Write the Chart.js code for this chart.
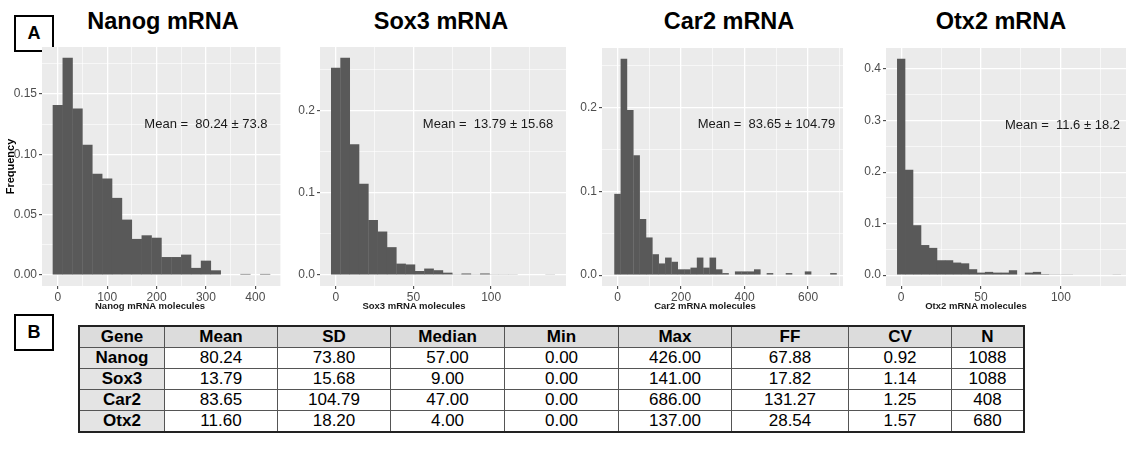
<!DOCTYPE html>
<html>
<head>
<meta charset="utf-8">
<script src="https://cdn.jsdelivr.net/npm/chart.js@4.4.1/dist/chart.umd.min.js"></script>
<style>
  html, body { margin: 0; padding: 0; background: #fff; }
  body { width: 1126px; height: 459px; overflow: hidden; font-family: "Liberation Sans", Arial, sans-serif; }
  #fig { position: relative; width: 1126px; height: 459px; overflow: hidden; }
  canvas { position: absolute; }
  .ptitle { position: absolute; top: 10px; width: 220px; text-align: center; font-weight: bold; font-size: 23.5px; line-height: 23px; color: #000; white-space: nowrap; }
  .xtitle { position: absolute; top: 300px; width: 200px; text-align: center; font-weight: bold; font-size: 9.5px; line-height: 12px; color: #1a1a1a; white-space: nowrap; }
  .tag { position: absolute; left: 14px; width: 36px; height: 33px; border: 2px solid #000; font-weight: bold; font-size: 18px; line-height: 33px; text-align: center; }
  #stats { position: absolute; left: 78px; top: 325px; border-collapse: collapse; border: 2px solid #222; font-size: 17px; }
  #stats td, #stats th { border: 1px solid #555; height: 20px; padding: 0; text-align: center; line-height: 20px; }
  #stats th { background: #dcdcdc; font-weight: bold; }
  #stats td.gene { background: #e4e4e4; font-weight: bold; }
</style>
</head>
<body>
<div id="fig">
  <div class="tag" style="top:15px">A</div>
  <div class="tag" style="top:314px">B</div>

  <canvas id="nanog" width="291" height="269" style="left:0px;top:37px"></canvas>
  <canvas id="sox3" width="286" height="269" style="left:290px;top:37px"></canvas>
  <canvas id="car2" width="281" height="268" style="left:572px;top:38px"></canvas>
  <canvas id="otx2" width="286" height="268" style="left:856px;top:38px"></canvas>

  <table id="stats"></table>
</div>

<script>
// ---------- histogram data (bin centres, relative frequency) ----------
const nanogBins = [0, 20, 40, 60, 80, 100, 120, 140, 160, 180, 200, 220, 240, 260, 280, 300, 320, 340, 360, 380, 400, 420];
const nanogFreq = [0.141, 0.180, 0.138, 0.108, 0.084, 0.080, 0.064, 0.046, 0.030, 0.033, 0.031, 0.015, 0.015, 0.017, 0.006, 0.012, 0.004, 0, 0, 0.001, 0, 0.001];

const sox3Bins = [0, 6, 12, 18, 24, 30, 36, 42, 48, 54, 60, 66, 72, 78, 84, 90, 96, 102, 108, 114, 120, 126, 132, 138];
const sox3Freq = [0.252, 0.264, 0.159, 0.111, 0.067, 0.053, 0.034, 0.014, 0.013, 0.005, 0.008, 0.006, 0.003, 0.001, 0.002, 0.001, 0.002, 0.001, 0.001, 0.001, 0, 0, 0, 0.001];

const car2Bins = [0, 20, 40, 60, 80, 100, 120, 140, 160, 180, 200, 220, 240, 260, 280, 300, 320, 340, 360, 380, 400, 420, 440, 460, 480, 500, 520, 540, 560, 580, 600, 620, 640, 660, 680];
const car2Freq = [0.097, 0.258, 0.197, 0.143, 0.067, 0.045, 0.025, 0.014, 0.021, 0.016, 0.007, 0.007, 0.009, 0.021, 0.009, 0.021, 0.007, 0.0025, 0, 0.0045, 0.0045, 0.0045, 0.007, 0, 0.0025, 0, 0, 0.0025, 0, 0, 0.0045, 0, 0, 0, 0.0025];

const otx2Bins = [0, 5, 10, 15, 20, 25, 30, 35, 40, 45, 50, 55, 60, 65, 70, 75, 80, 85, 90, 95, 100, 105, 110, 115, 120, 125, 130, 135];
const otx2Freq = [0.42, 0.2045, 0.097, 0.0585, 0.053, 0.029, 0.029, 0.0245, 0.023, 0.0116, 0.005, 0.0064, 0.005, 0.005, 0.0096, 0.0013, 0.005, 0.0064, 0.002, 0.0015, 0.0015, 0.0015, 0, 0, 0, 0, 0, 0.0015];

const panelTitles = ["Nanog mRNA", "Sox3 mRNA", "Car2 mRNA", "Otx2 mRNA"];
const xTitles = ["Nanog mRNA molecules", "Sox3 mRNA molecules", "Car2 mRNA molecules", "Otx2 mRNA molecules"];
const meanTexts = ["Mean =  80.24 \u00b1 73.8", "Mean =  13.79 \u00b1 15.68", "Mean =  83.65 \u00b1 104.79", "Mean =  11.6 \u00b1 18.2"];

// ---------- table data ----------
const tableHeader = ["Gene", "Mean", "SD", "Median", "Min", "Max", "FF", "CV", "N"];
const tableGenes = ["Nanog", "Sox3", "Car2", "Otx2"];
const tableMean = ["80.24", "13.79", "83.65", "11.60"];
const tableSD = ["73.80", "15.68", "104.79", "18.20"];
const tableMedian = ["57.00", "9.00", "47.00", "4.00"];
const tableMin = ["0.00", "0.00", "0.00", "0.00"];
const tableMax = ["426.00", "141.00", "686.00", "137.00"];
const tableFF = ["67.88", "17.82", "131.27", "28.54"];
const tableCV = ["0.92", "1.14", "1.25", "1.57"];
const tableN = ["1088", "1088", "408", "680"];
const colWidths = [84, 112, 112, 113, 113, 112, 116, 102, 71];

Chart.defaults.font.family = '"Liberation Sans", Arial, sans-serif';

const isMajor = (v, step) => Math.abs(v / step - Math.round(v / step)) < 1e-6;

// grey ggplot panel behind everything
const panelBg = {
    id: "panelBg",
    beforeDraw(chart) {
        const { ctx, chartArea: a } = chart;
        ctx.save();
        ctx.fillStyle = "#ebebeb";
        ctx.fillRect(a.left, a.top, a.right - a.left, a.bottom - a.top);
        ctx.restore();
    }
};

// "Mean = ..." annotation placed in data coordinates
const meanLabel = {
    id: "meanLabel",
    afterDatasetsDraw(chart, args, opts) {
        const { ctx, scales } = chart;
        ctx.save();
        ctx.font = '13px "Liberation Sans", Arial, sans-serif';
        ctx.fillStyle = "#1a1a1a";
        ctx.textAlign = "center";
        ctx.textBaseline = "middle";
        ctx.fillText(opts.text, scales.x.getPixelForValue(opts.x), scales.y.getPixelForValue(opts.y));
        ctx.restore();
    }
};

const panels = [
    { id: "nanog", bins: nanogBins, freq: nanogFreq, xMin: -32, xMax: 452, xStep: 50, xMajor: 100,
      yStep: 0.025, yMajor: 0.05, yDigits: 2, axisW: 42, meanAt: [300, 0.125], yTitle: "Frequency" },
    { id: "sox3", bins: sox3Bins, freq: sox3Freq, xMin: -10.2, xMax: 148.2, xStep: 25, xMajor: 50,
      yStep: 0.05, yMajor: 0.1, yDigits: 1, axisW: 30, meanAt: [98, 0.183] },
    { id: "car2", bins: car2Bins, freq: car2Freq, xMin: -49, xMax: 710, xStep: 100, xMajor: 200,
      yStep: 0.05, yMajor: 0.1, yDigits: 1, axisW: 30, meanAt: [469, 0.18] },
    { id: "otx2", bins: otx2Bins, freq: otx2Freq, xMin: -9.5, xMax: 144.5, xStep: 25, xMajor: 50,
      yStep: 0.05, yMajor: 0.1, yDigits: 1, axisW: 30, meanAt: [101, 0.29] }
];

function gridOpts(major) {
    return {
        offset: false,
        color: "#ffffff",
        lineWidth: c => (c.tick && isMajor(c.tick.value, major) ? 1.3 : 0.6),
        tickColor: c => (c.tick && isMajor(c.tick.value, major) ? "#333333" : "rgba(0,0,0,0)"),
        tickWidth: 1,
        tickLength: 3
    };
}

function makeHistogram(p, i) {
    const top = Math.max(...p.freq);
    return new Chart(document.getElementById(p.id), {
        type: "bar",
        data: {
            datasets: [{
                data: p.bins.map((b, k) => ({ x: b, y: p.freq[k] })),
                backgroundColor: "#595959",
                borderWidth: 0,
                barPercentage: 1.04,
                categoryPercentage: 1
            }]
        },
        options: {
            responsive: false,
            animation: false,
            events: [],
            layout: { padding: { top: 10, right: 10, left: 0, bottom: 0 } },
            plugins: {
                legend: { display: false },
                tooltip: { enabled: false },
                meanLabel: { text: meanTexts[i], x: p.meanAt[0], y: p.meanAt[1] }
            },
            scales: {
                x: {
                    type: "linear",
                    min: p.xMin,
                    max: p.xMax,
                    offset: false,
                    border: { display: false },
                    grid: gridOpts(p.xMajor),
                    ticks: {
                        stepSize: p.xStep,
                        includeBounds: false,
                        autoSkip: false,
                        maxRotation: 0,
                        padding: 1,
                        color: "#4d4d4d",
                        font: { size: 12 },
                        callback: v => (isMajor(v, p.xMajor) ? String(v) : "")
                    },
                    afterFit: s => { s.height = 20; }
                },
                y: {
                    min: -0.05 * top,
                    max: 1.05 * top,
                    border: { display: false },
                    grid: gridOpts(p.yMajor),
                    title: p.yTitle ? { display: true, text: p.yTitle, color: "#000", font: { size: 11, weight: "bold" } } : { display: false },
                    ticks: {
                        stepSize: p.yStep,
                        includeBounds: false,
                        autoSkip: false,
                        padding: 2,
                        color: "#4d4d4d",
                        font: { size: 12 },
                        callback: v => (isMajor(v, p.yMajor) ? v.toFixed(p.yDigits) : "")
                    },
                    afterFit: s => { s.width = p.axisW; }
                }
            }
        },
        plugins: [panelBg, meanLabel]
    });
}

panels.forEach(makeHistogram);

// titles and x-axis titles as plain text over the figure
const fig = document.getElementById("fig");
const titleCentres = [163, 441, 729, 1001];
const xTitleCentres = [150, 414, 705, 976];
panelTitles.forEach((t, i) => {
    const d = document.createElement("div");
    d.className = "ptitle";
    d.style.left = (titleCentres[i] - 110) + "px";
    d.textContent = t;
    fig.appendChild(d);
});
xTitles.forEach((t, i) => {
    const d = document.createElement("div");
    d.className = "xtitle";
    d.style.left = (xTitleCentres[i] - 100) + "px";
    d.textContent = t;
    fig.appendChild(d);
});

// stats table
const table = document.getElementById("stats");
const cols = [tableMean, tableSD, tableMedian, tableMin, tableMax, tableFF, tableCV, tableN];
let html = "<tr>" + tableHeader.map((h, k) => `<th style="width:${colWidths[k]}px">${h}</th>`).join("") + "</tr>";
tableGenes.forEach((g, r) => {
    html += `<tr><td class="gene">${g}</td>` + cols.map(c => `<td>${c[r]}</td>`).join("") + "</tr>";
});
table.innerHTML = html;
</script>
</body>
</html>
